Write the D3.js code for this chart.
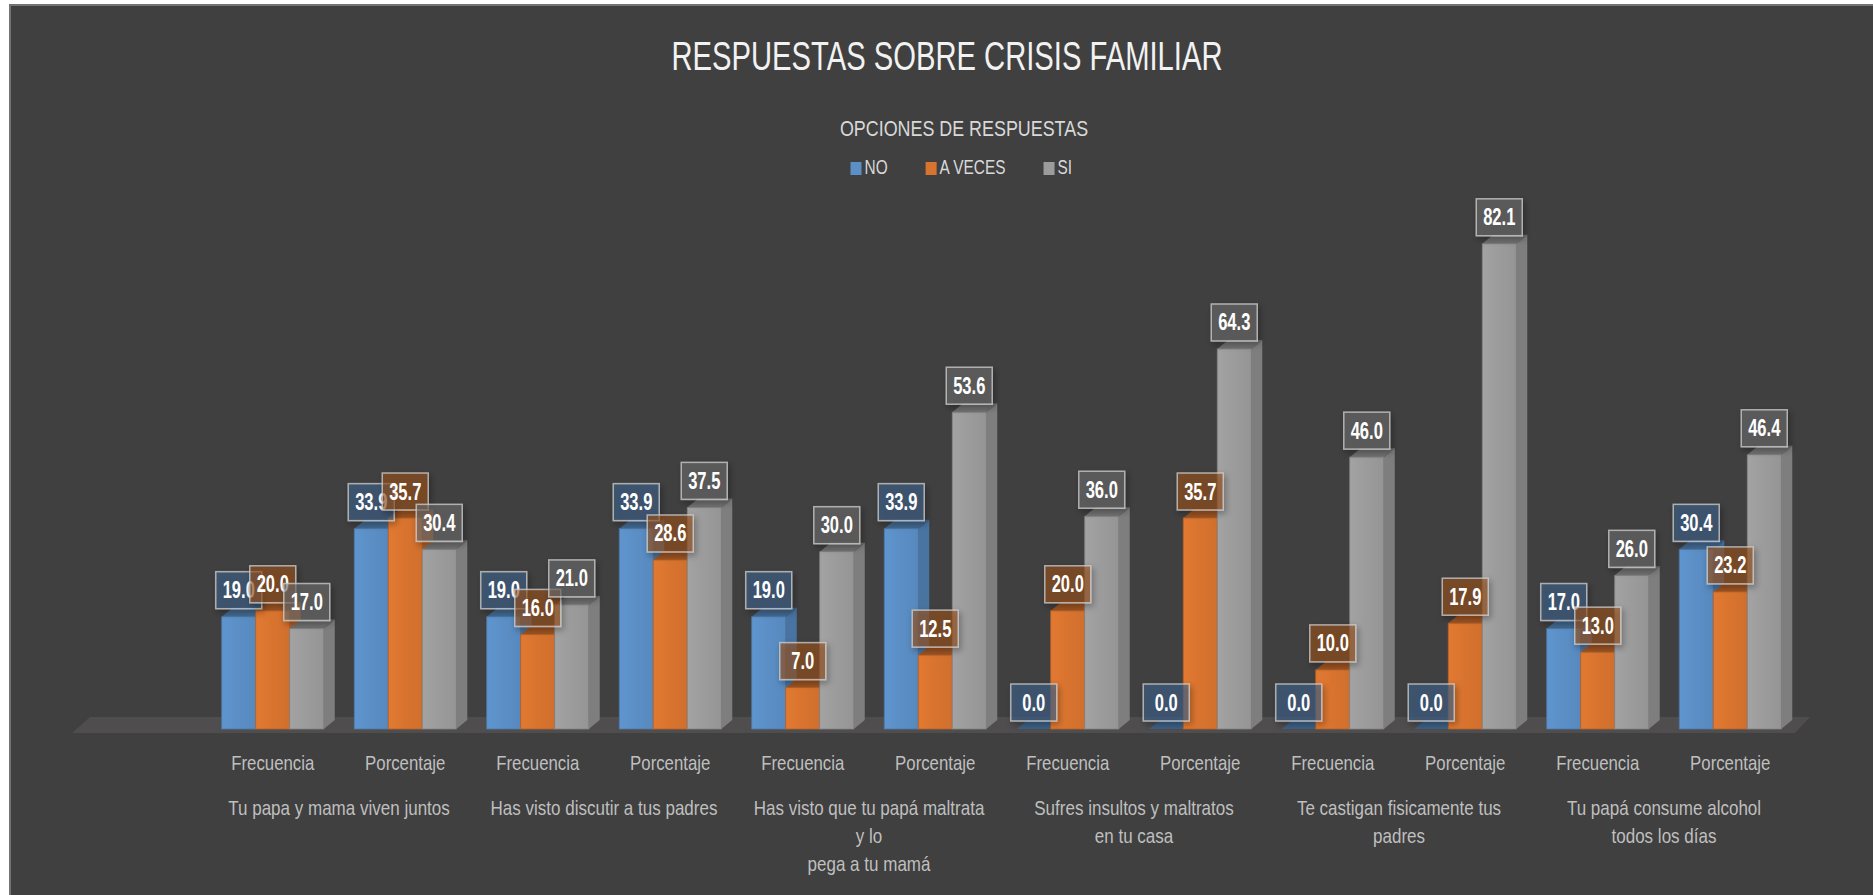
<!DOCTYPE html>
<html>
<head>
<meta charset="utf-8">
<script src="https://d3js.org/d3.v7.min.js"></script>
<style>
  body { margin: 0; background: #fff; overflow: hidden; }
  text { font-family: "Liberation Sans", Arial, sans-serif; }
</style>
</head>
<body>
<script>
// chart data
var categories = ["Frecuencia", "Porcentaje", "Frecuencia", "Porcentaje", "Frecuencia", "Porcentaje",
                  "Frecuencia", "Porcentaje", "Frecuencia", "Porcentaje", "Frecuencia", "Porcentaje"];
var questions = [
    ["Tu papa y mama viven juntos"],
    ["Has visto discutir a tus padres"],
    ["Has visto que tu papá maltrata", "y lo", "pega a tu mamá"],
    ["Sufres insultos y maltratos", "en tu casa"],
    ["Te castigan fisicamente tus", "padres"],
    ["Tu papá consume alcohol", "todos los días"]
];
var seriesNames = ["NO", "A VECES", "SI"];
var noValues     = [19.0, 33.9, 19.0, 33.9, 19.0, 33.9, 0.0, 0.0, 0.0, 0.0, 17.0, 30.4];
var aVecesValues = [20.0, 35.7, 16.0, 28.6, 7.0, 12.5, 20.0, 35.7, 10.0, 17.9, 13.0, 23.2];
var siValues     = [17.0, 30.4, 21.0, 37.5, 30.0, 53.6, 36.0, 64.3, 46.0, 82.1, 26.0, 46.4];
var chartTitle = "RESPUESTAS SOBRE CRISIS FAMILIAR";
var legendTitle = "OPCIONES DE RESPUESTAS";

var seriesValues = [noValues, aVecesValues, siValues];
var seriesColors = ["#5b8fc6", "#d9742f", "#9c9c9c"];

var W = 1873, H = 895;
var base = 729;       // bottom of bars
var depthX = 11, depthY = 9;

var svg = d3.select("body").append("svg")
    .attr("width", W)
    .attr("height", H);

var defs = svg.append("defs");

defs.append("filter").attr("id", "shadow")
    .attr("x", "-30%").attr("y", "-30%").attr("width", "160%").attr("height", "160%")
    .append("feDropShadow")
    .attr("dx", 2).attr("dy", 3).attr("stdDeviation", 3)
    .attr("flood-color", "#000").attr("flood-opacity", 0.45);

seriesColors.forEach(function(c, i) {
    var g = defs.append("linearGradient").attr("id", "front" + i)
        .attr("x1", 0).attr("x2", 1).attr("y1", 0).attr("y2", 0);
    g.append("stop").attr("offset", "0%").attr("stop-color", d3.color(c).brighter(0.12));
    g.append("stop").attr("offset", "45%").attr("stop-color", c);
    g.append("stop").attr("offset", "100%").attr("stop-color", d3.color(c).darker(0.12));
});

// chart area with frame
svg.append("rect")
    .attr("x", 10).attr("y", 5)
    .attr("width", W).attr("height", H)
    .attr("fill", "#404040")
    .attr("stroke", "#737373")
    .attr("stroke-width", 2);

// horizontal squeeze so text looks like the narrow original font
function squeeze(sel, k) {
    sel.each(function() {
        var w = this.getComputedTextLength();
        d3.select(this).attr("textLength", w * k).attr("lengthAdjust", "spacingAndGlyphs");
    });
}

var x0 = d3.scaleBand()
    .domain(d3.range(categories.length))
    .range([206.5, 1796.5])
    .paddingInner(0.23)
    .paddingOuter(0.115);

var x1 = d3.scaleBand()
    .domain(d3.range(seriesNames.length))
    .range([0, x0.bandwidth()]);

var y = d3.scaleLinear()
    .domain([0, 90])
    .range([base, 197.1]);

// floor
svg.append("polygon")
    .attr("points", [[72, 733], [90, 717], [1810, 717], [1795, 733]].join(" "))
    .attr("fill", "#4f4d4e");

var bars = [];
categories.forEach(function(cat, g) {
    seriesNames.forEach(function(s, i) {
        bars.push({ g: g, s: i, v: seriesValues[i][g] });
    });
});

var barLayer = svg.append("g").attr("class", "bars");

var bar = barLayer.selectAll("g.bar")
    .data(bars)
    .enter().append("g")
    .attr("class", "bar");

bar.append("polygon")
    .attr("points", function(d) {
        var xr = x0(d.g) + x1(d.s) + x1.bandwidth(), yt = y(d.v);
        return [[xr, base], [xr, yt], [xr + depthX, yt - depthY], [xr + depthX, base - depthY]].join(" ");
    })
    .attr("fill", function(d) { return d3.color(seriesColors[d.s]).darker(0.6); });

bar.append("polygon")
    .attr("points", function(d) {
        var xl = x0(d.g) + x1(d.s), xr = xl + x1.bandwidth(), yt = y(d.v);
        return [[xl, yt], [xr, yt], [xr + depthX, yt - depthY], [xl + depthX, yt - depthY]].join(" ");
    })
    .attr("fill", function(d) { return d3.color(seriesColors[d.s]).darker(d.v === 0 ? 1.1 : 0.9); });

bar.append("rect")
    .attr("x", function(d) { return x0(d.g) + x1(d.s); })
    .attr("y", function(d) { return y(d.v); })
    .attr("width", x1.bandwidth())
    .attr("height", function(d) { return base - y(d.v); })
    .attr("fill", function(d) { return "url(#front" + d.s + ")"; })
    .attr("stroke", function(d) { return d3.color(seriesColors[d.s]).darker(0.5); })
    .attr("stroke-width", 0.8);

// data labels
var boxW = 46, boxH = 37;
var labelLayer = svg.append("g").attr("class", "labels");

var lab = labelLayer.selectAll("g.lab")
    .data(bars)
    .enter().append("g")
    .attr("class", "lab")
    .attr("transform", function(d) {
        var cx = x0(d.g) + x1(d.s) + x1.bandwidth() / 2;
        var cy = y(d.v) - 8 - boxH / 2;
        return "translate(" + cx + "," + cy + ")";
    });

lab.append("rect")
    .attr("x", -boxW / 2).attr("y", -boxH / 2)
    .attr("width", boxW).attr("height", boxH)
    .attr("fill", function(d) { return d3.color(seriesColors[d.s]).darker(1); })
    .attr("fill-opacity", 0.6)
    .attr("stroke", "#d0d0d0")
    .attr("stroke-opacity", 0.75)
    .attr("stroke-width", 1.5)
    .attr("filter", "url(#shadow)");

lab.append("text")
    .attr("text-anchor", "middle")
    .attr("y", 8)
    .attr("font-size", 23)
    .attr("font-weight", "bold")
    .attr("fill", "#ffffff")
    .text(function(d) { return d.v.toFixed(1); })
    .call(squeeze, 0.72);

// category labels
svg.append("g").selectAll("text")
    .data(categories)
    .enter().append("text")
    .attr("x", function(d, i) { return x0(i) + x0.bandwidth() / 2; })
    .attr("y", 770)
    .attr("text-anchor", "middle")
    .attr("font-size", 21)
    .attr("fill", "#bfbfbf")
    .text(function(d) { return d; })
    .call(squeeze, 0.8);

var qLabels = svg.append("g").selectAll("text")
    .data(questions)
    .enter().append("text")
    .attr("text-anchor", "middle")
    .attr("font-size", 21)
    .attr("fill", "#bfbfbf")
    .attr("transform", function(d, i) {
        var cx = (x0(2 * i) + x0(2 * i + 1) + x0.bandwidth()) / 2;
        return "translate(" + cx + ",815)";
    });

qLabels.selectAll("tspan")
    .data(function(d) { return d; })
    .enter().append("tspan")
    .attr("x", 0)
    .attr("y", function(d, i) { return i * 28; })
    .text(function(d) { return d; })
    .call(squeeze, 0.81);

// title
svg.append("text")
    .attr("x", 947).attr("y", 70)
    .attr("text-anchor", "middle")
    .attr("font-size", 41)
    .attr("fill", "#f2f2f2")
    .text(chartTitle)
    .call(squeeze, 0.712);

// legend
svg.append("text")
    .attr("x", 964).attr("y", 135.5)
    .attr("text-anchor", "middle")
    .attr("font-size", 22)
    .attr("fill", "#d9d9d9")
    .text(legendTitle)
    .call(squeeze, 0.813);

var legend = svg.append("g").attr("class", "legend");
var lx = 850.5;
seriesNames.forEach(function(name, i) {
    legend.append("rect")
        .attr("x", lx).attr("y", 162)
        .attr("width", 11).attr("height", 13)
        .attr("fill", seriesColors[i]);
    var t = legend.append("text")
        .attr("x", lx + 14).attr("y", 173.5)
        .attr("font-size", 19.5)
        .attr("fill", "#d9d9d9")
        .text(name)
        .call(squeeze, 0.79);
    lx += 14 + (+t.attr("textLength")) + 38;
});
</script>
</body>
</html>
